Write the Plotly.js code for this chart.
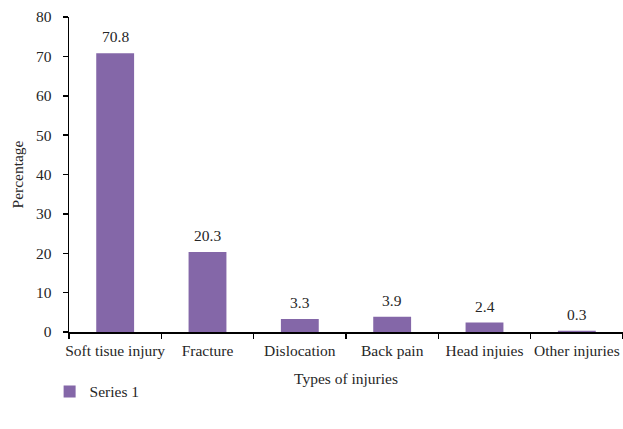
<!DOCTYPE html>
<html>
<head>
<meta charset="utf-8">
<script src="https://cdn.plot.ly/plotly-3.0.1.min.js"></script>
<style>html,body{margin:0;padding:0;background:#fff;}#chart{width:623px;height:429px;}</style>
</head>
<body>
<div id="chart"></div>
<script>
const categories = ["Soft tisue injury", "Fracture", "Dislocation", "Back pain", "Head injuies", "Other injuries"];
const values = [70.8, 20.3, 3.3, 3.9, 2.4, 0.3];
const seriesName = "Series 1";

const fontFam = "'Liberation Serif', 'DejaVu Serif', serif";
const txtColor = "#262626";
const fs = 15.5;
const trace = {
  type: "bar",
  x: categories,
  y: values,
  name: seriesName,
  marker: {color: "#8467a8"},
  width: 0.41,
  showlegend: true,
  hoverinfo: "none"
};
const annotations = categories.map((c, i) => ({
  x: c, y: values[i], text: values[i].toFixed(1),
  showarrow: false, yanchor: "bottom", yshift: 6,
  font: {family: fontFam, size: fs, color: txtColor}
}));
const layout = {
  width: 623, height: 429,
  margin: {l: 69, r: 0, t: 17, b: 97},
  paper_bgcolor: "#fff", plot_bgcolor: "#fff",
  font: {family: fontFam, size: fs, color: txtColor},
  showlegend: true,
  annotations: annotations,
  legend: {orientation: "h", x: -0.035, xanchor: "left", y: -0.19, yanchor: "middle", font: {family: fontFam, size: fs, color: txtColor}},
  xaxis: {
    type: "category",
    showline: true, linecolor: "#000", linewidth: 1.5,
    ticks: "outside", tickson: "boundaries", ticklen: 5, tickcolor: "#000", tickwidth: 1.5,
    tickangle: 0, ticklabelstandoff: 4,
    showgrid: false, zeroline: false,
    tickfont: {family: fontFam, size: fs, color: txtColor},
    title: {text: "Types of injuries", font: {family: fontFam, size: fs, color: txtColor}, standoff: 15},
    automargin: false
  },
  yaxis: {
    range: [0, 80], dtick: 10,
    showline: true, linecolor: "#000", linewidth: 1.5,
    ticks: "outside", ticklen: 5, tickcolor: "#000", tickwidth: 1.5,
    ticklabelstandoff: 8,
    showgrid: false, zeroline: false,
    tickfont: {family: fontFam, size: fs, color: txtColor},
    title: {text: "Percentage", font: {family: fontFam, size: fs, color: txtColor}, standoff: 8},
    automargin: false
  }
};
Plotly.newPlot("chart", [trace], layout, {displayModeBar: false, staticPlot: true});
</script>
</body>
</html>
